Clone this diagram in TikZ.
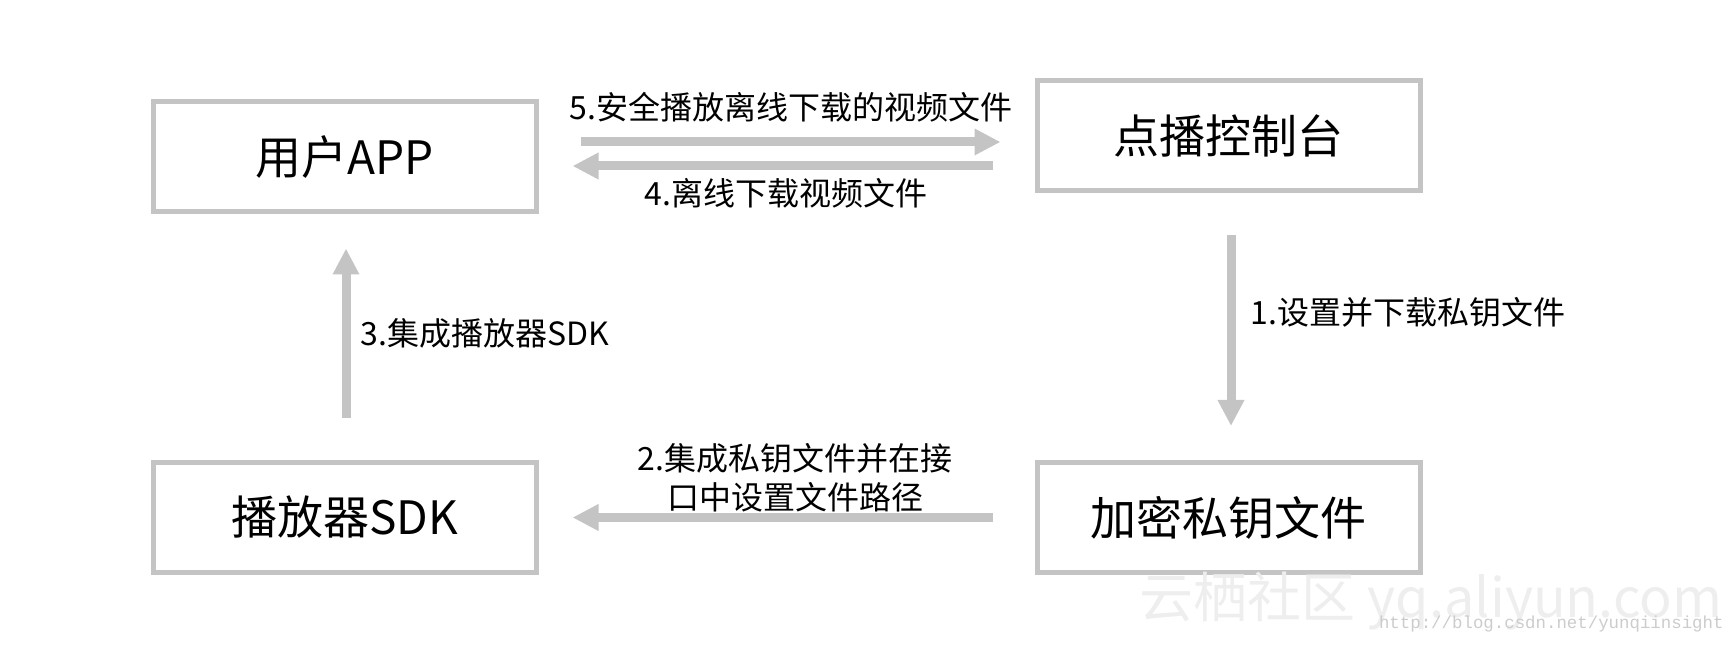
\documentclass[tikz,border=0pt]{standalone}
\usepackage{fontspec}
\setmainfont{Noto Sans CJK SC}
\newfontfamily\wmmono{Liberation Mono}
\usetikzlibrary{arrows.meta}
\definecolor{linegray}{RGB}{196,196,196}

\begin{document}
\begin{tikzpicture}[
            x=0.5pt, y=-0.5pt,
            box/.style={
                draw=linegray, line width=2.5pt,
                minimum width=191.5pt, minimum height=55pt,
                inner sep=0pt, font=\fontsize{23}{27}\selectfont
            },
            flow/.style={
                draw=linegray, line width=4.5pt,
                -{Triangle[length=13pt,width=12.5pt]},
                shorten <=21pt, shorten >=17pt
            },
            lbl/.style={
                inner sep=0pt, font=\fontsize{16}{19.5}\selectfont
            },
            wmark/.style={
                inner sep=0pt, text=gray!13
            }
        ]
        \useasboundingbox (0,0) rectangle (1729,646);

        % boxes
        \node[box] (app)     at (344.5,157)    {用户APP};
        \node[box] (console) at (1228.5,136)   {点播控制台};
        \node[box] (sdk)     at (344.5,517.5)  {播放器SDK};
        \node[box] (key)     at (1228.5,517.5) {加密私钥文件};

        % steps
        \draw[flow] ([xshift=1.25pt]console.south) -- ([xshift=1.25pt]key.north);
        \draw[flow] (key.west) -- (sdk.east);
        \draw[flow] ([xshift=0.75pt]sdk.north) -- ([xshift=0.75pt]app.south);
        \draw[flow] ([yshift=-15pt]console.west) -- ([yshift=-4.5pt]app.east);
        \draw[flow] ([yshift=7.5pt]app.east) -- ([yshift=-3pt]console.west);

        \node[lbl, anchor=west] (step1) at (1250,312) {1.设置并下载私钥文件};
        \node[lbl, align=center] (step2) at (795,477.5) {2.集成私钥文件并在接\\口中设置文件路径};
        \node[lbl, anchor=west] (step3) at (360,333) {3.集成播放器SDK};
        \node[lbl] (step4) at (786,193) {4.离线下载视频文件};
        \node[lbl] (step5) at (791,107) {5.安全播放离线下载的视频文件};

        % watermark
        \node[wmark, font=\fontsize{27}{30}\selectfont] (wmsite) at (1431,601) {云栖社区 yq.aliyun.com};
        \node[wmark, text=gray!40, anchor=east, font=\wmmono\fontsize{8.7}{10}\selectfont] (wmurl) at (1724,624) {http://blog.csdn.net/yunqiinsight};
        \end{tikzpicture}
\end{document}
